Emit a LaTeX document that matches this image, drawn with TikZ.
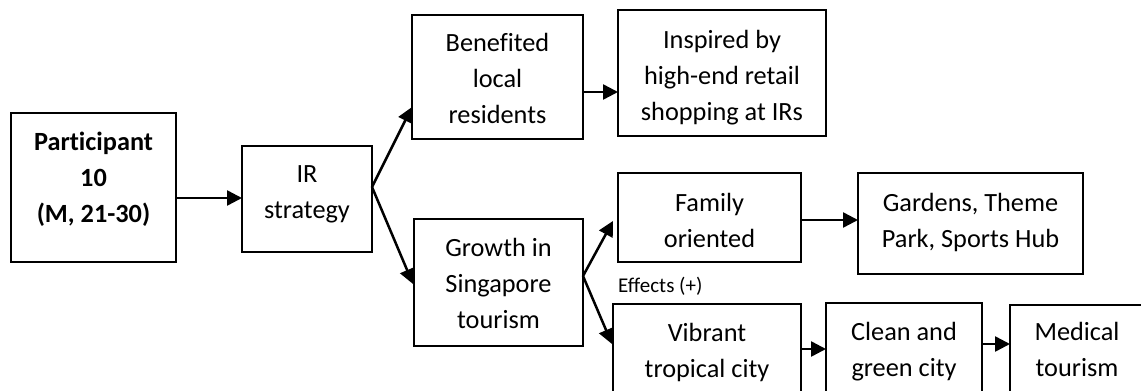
\documentclass[tikz,border=0pt]{standalone}
\usepackage{fontspec}
\setmainfont[Ligatures={NoCommon,NoContextual}]{Carlito}
\usetikzlibrary{arrows.meta,calc}
\begin{document}
\begin{tikzpicture}[x=1pt,y=-1pt,
  box/.style={draw,line width=1.8pt,inner sep=0pt,outer sep=0pt},
  label text/.style={anchor=north,align=center,inner sep=0pt,
    font=\fontsize{26.3}{36}\selectfont},
  small text/.style={anchor=base west,inner sep=0pt,
    font=\fontsize{21}{25}\selectfont},
  arr/.style={line width=2.5pt,-{Triangle[length=15pt,width=15pt]}}]
\useasboundingbox (0,0) rectangle (1141,391);
\clip (0,0) rectangle (1141,391);

% boxes
\node[box,minimum width=165pt,minimum height=149pt] (p)     at (93.5,187.5) {};
\node[box,minimum width=130pt,minimum height=106pt] (ir)    at (307,199) {};
\node[box,minimum width=171pt,minimum height=124pt] (ben)   at (497.5,77) {};
\node[box,minimum width=208pt,minimum height=126pt] (insp)  at (722,73) {};
\node[box,minimum width=169pt,minimum height=127pt] (grow)  at (498.5,282.5) {};
\node[box,minimum width=183pt,minimum height=89pt]  (fam)   at (709.5,217.5) {};
\node[box,minimum width=225pt,minimum height=101pt] (gard)  at (970.5,223.5) {};
\node[box,minimum width=188pt,minimum height=116pt] (vib)   at (707,362) {};
\node[box,minimum width=156pt,minimum height=117pt] (clean) at (904,361.5) {};
\node[box,minimum width=134pt,minimum height=115pt] (med)   at (1077,362.5) {};

% box texts
\node[label text,font=\fontsize{26.3}{36}\selectfont\bfseries] (pt) at (93.5,124.8)
  {\strut Participant\\10\\(M, 21-30)};
\node[label text] (irt)    at (307,156.8)   {\strut IR\\strategy};
\node[label text] (bent)   at (497.5,25.8)  {\strut Benefited\\local\\residents};
\node[label text] (inspt)  at (722,22.8)    {\strut Inspired by\\high-end retail\\shopping at IRs};
\node[label text] (growt)  at (498.5,230.8) {\strut Growth in\\Singapore\\tourism};
\node[label text] (famt)   at (709.5,185.8) {\strut Family\\oriented};
\node[label text] (gardt)  at (970.5,185.8) {\strut Gardens, Theme\\Park, Sports Hub};
\node[label text] (vibt)   at (707,315.8)   {\strut Vibrant\\tropical city};
\node[label text] (cleant) at (904,314.8)   {\strut Clean and\\green city};
\node[label text] (medt)   at (1077,314.8)  {\strut Medical\\tourism};
\node[small text] (eff)    at (618,292)     {Effects (+)};

% branch points
\coordinate (irout)   at ($(ir.east)+(0,-12)$);
\coordinate (growout) at ($(grow.east)+(0,-6.5)$);

% connectors
\draw[arr] ($(p.east)+(0,10.5)$) -- ($(ir.west)+(0,-1)$);
\draw[arr] (irout) -- ($(ben.west)+(0,30)$);
\draw[arr] (irout) -- ($(grow.west)+(-1,1.5)$);
\draw[arr] ($(ben.east)+(0,15)$) -- ($(insp.west)+(0,19)$);
\draw[arr] (growout) -- ($(fam.west)+(-5,3.5)$);
\draw[arr] (growout) -- ($(vib.north west)+(-1,40)$);
\draw[arr] ($(fam.east)+(0,2.5)$) -- ($(gard.west)+(0,-3.5)$);
\draw[arr] ($(vib.east)+(0,-13)$) -- ($(clean.west)+(0,-12.5)$);
\draw[arr] ($(clean.east)+(0,-17.5)$) -- ($(med.west)+(0,-18.5)$);
\end{tikzpicture}
\end{document}
